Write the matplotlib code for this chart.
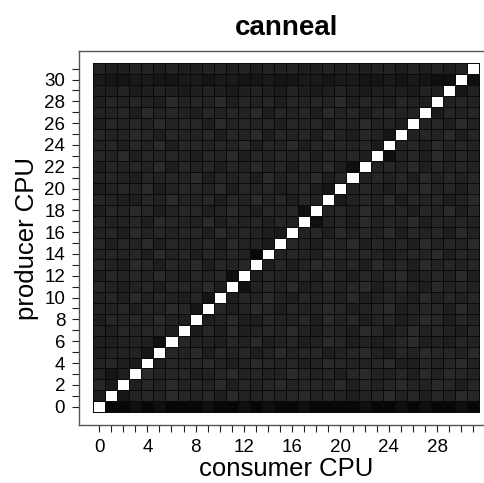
import numpy as np
import matplotlib
matplotlib.use("Agg")
import matplotlib.pyplot as plt
from matplotlib.colors import ListedColormap, BoundaryNorm

plt.rcParams["font.family"] = ["Liberation Sans", "DejaVu Sans"]

TITLE = "canneal"
X_LABEL = "consumer CPU"
Y_LABEL = "producer CPU"

# shade level per cell, 0 = black ... 8 = lightest grey, 9 = white
# one string per producer CPU (row 0 = producer 0), one char per consumer CPU
LEVEL_ROWS = [
    "90010100 01001010 01000010 01010010",
    "49256576 56475565 67565456 75646576",
    "63946575 65746567 56657465 67557646",
    "52497566 45675655 76564675 56475765",
    "56439465 67545765 64576556 74465675",
    "45552965 74656457 56645675 46576657",
    "44554196 55465745 64576454 56745465",
    "54656649 36474565 75465476 45756546",
    "46565754 94574465 56475645 64576465",
    "55646576 29645764 65576456 74566475",
    "56475654 62946575 46565745 65475656",
    "65456466 57491565 74565674 56547565",
    "46565754 65619465 56475465 67456574",
    "65476465 74656946 45765647 56475656",
    "56564756 46565095 65476565 45657465",
    "64657465 56475539 65465746 56475657",
    "56475656 64756543 95647565 74656475",
    "65564765 57465646 59156475 65746565",
    "46576456 64575465 61956475 56465746",
    "65446575 56465756 46593565 74656457",
    "45657456 65746564 56429565 46575646",
    "56546565 74656475 65746956 56475656",
    "46565746 56465756 46574195 65746565",
    "65746565 46574656 56465649 15647565",
    "56465746 65657465 74656563 95647565",
    "65576465 56465746 56475465 29565746",
    "46565756 64756564 65646575 54956475",
    "55647565 46565746 56475646 65593656",
    "46565475 65746564 65657465 46549565",
    "44534543 45434543 54345434 44354925",
    "32233223 32332232 23323322 32321191",
    "54455454 45545455 54454545 54545459",
]

LEVEL_COLORS = [
    "#070707", "#0f0f0f", "#151515", "#1a1a1a", "#1e1e1e",
    "#222222", "#262626", "#2a2a2a", "#2e2e2e", "#ffffff",
]

levels = np.array([[int(c) for c in row.replace(" ", "")] for row in LEVEL_ROWS])
n_cpu = levels.shape[0]

cmap = ListedColormap(LEVEL_COLORS)
norm = BoundaryNorm(np.arange(-0.5, len(LEVEL_COLORS) + 0.5), len(LEVEL_COLORS))

fig = plt.figure(figsize=(4.85, 4.83), dpi=100)
# right edge of the frame runs past the figure, like the original
ax = fig.add_axes([0.163, 0.120, 0.854, 0.774])

edges = np.arange(n_cpu + 1) - 0.5
ax.pcolormesh(edges, edges, levels, cmap=cmap, norm=norm,
              edgecolors="#0a0a0a", linewidth=0.6)

ax.set_xlim(-1.66, n_cpu + 0.66)
ax.set_ylim(-1.69, n_cpu + 0.6)

ax.set_xticks(np.arange(0, n_cpu, 4))
ax.set_yticks(np.arange(0, n_cpu, 2))
ax.set_xticks(np.arange(0, n_cpu), minor=True)
ax.set_yticks(np.arange(0, n_cpu), minor=True)

ax.tick_params(which="both", direction="out", length=5, width=0.8,
               color="#222222", top=False, right=False)
ax.tick_params(which="major", labelsize=13.5, pad=5)

for sp in ax.spines.values():
    sp.set_color("#555555")
    sp.set_linewidth(1.0)

ax.set_title(TITLE, fontsize=20, fontweight="bold", pad=12)
ax.set_xlabel(X_LABEL, fontsize=18.5, labelpad=1)
ax.set_ylabel(Y_LABEL, fontsize=18.5, labelpad=4)

fig.savefig("out.png", dpi=100)
